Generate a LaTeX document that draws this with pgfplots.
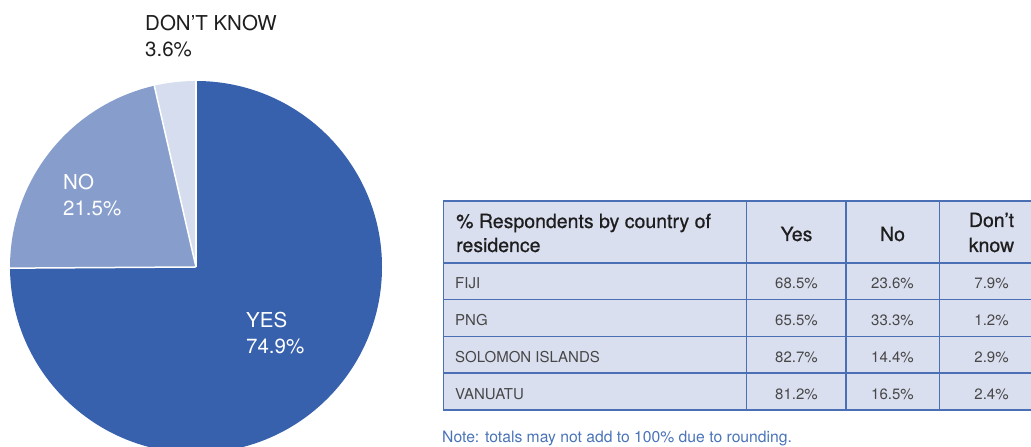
\documentclass[border=0pt]{standalone}
\usepackage{pgfplots}
\pgfplotsset{compat=1.18}
\usepackage{pgfplotstable}
\usepackage{fontspec}
\setmainfont{TeX Gyre Heros}
\newfontfamily\headfont[FakeBold=0.6]{TeX Gyre Heros}
\definecolor{cyes}{HTML}{3761AC}
\definecolor{cno}{HTML}{879ECC}
\definecolor{cdk}{HTML}{D6DDEF}
\definecolor{tfill}{HTML}{DADFF0}
\definecolor{tline}{HTML}{4A6FB5}
\definecolor{notec}{HTML}{4A74B8}
\definecolor{bodyc}{HTML}{474747}
\definecolor{headc}{HTML}{1E1E1E}

\pgfplotstableread{
label value
YES 74.9
NO 21.5
DK 3.6
}\piedata

\pgfplotstableread[col sep=comma]{
country,yes,no,dk
FIJI,68.5,23.6,7.9
PNG,65.5,33.3,1.2
SOLOMON ISLANDS,82.7,14.4,2.9
VANUATU,81.2,16.5,2.4
}\countrydata

\begin{document}
\begin{tikzpicture}[x=1bp,y=1bp]
\useasboundingbox (0,0) rectangle (1031,447);
\clip (0,0) rectangle (1031,447);
% pie values
\pgfplotstablegetelem{0}{value}\of\piedata \global\let\pA\pgfplotsretval
\pgfplotstablegetelem{1}{value}\of\piedata \global\let\pB\pgfplotsretval
\pgfplotstablegetelem{2}{value}\of\piedata \global\let\pC\pgfplotsretval
\pgfmathsetmacro{\aA}{90}
\pgfmathsetmacro{\aB}{90-3.6*\pA}
\pgfmathsetmacro{\aC}{\aB-3.6*\pB}
\pgfmathsetmacro{\aD}{\aC-3.6*\pC}
\begin{axis}[hide axis, x=1bp, y=1bp, xmin=-186, xmax=186, ymin=-186, ymax=186,
  at={(10,-6)}, anchor=south west, clip=false]
\fill[cyes] (axis cs:0,0) -- ++(\aA:186bp) arc[start angle=\aA, end angle=\aB, radius=186bp] -- cycle;
\fill[cno] (axis cs:0,0) -- ++(\aB:186bp) arc[start angle=\aB, end angle=\aC, radius=186bp] -- cycle;
\fill[cdk] (axis cs:0,0) -- ++(\aC:186bp) arc[start angle=\aC, end angle=\aD, radius=186bp] -- cycle;
\draw[white, line width=1.5bp] (axis cs:0,0) -- ++(\aA:187bp);
\draw[white, line width=1.5bp] (axis cs:0,0) -- ++(\aB:187bp);
\draw[white, line width=1.5bp] (axis cs:0,0) -- ++(\aC:187bp);
\end{axis}
% pie labels
\begin{scope}[every node/.style={anchor=base west, inner sep=0pt, font=\fontsize{20.5bp}{25bp}\selectfont}]
\node[text=headc] at (145,{447-31}) {DON’T KNOW};
\node[text=headc] at (145,{447-57}) {\pC\%};
\node[text=white] at (63,{447-190}) {NO};
\node[text=white] at (63,{447-216}) {\pB\%};
\node[text=white] at (246,{447-328}) {YES};
\node[text=white] at (246,{447-354}) {\pA\%};
\end{scope}
% table
\fill[tfill] (443.5,37) rectangle (1044,246);
\begin{scope}[tline, line width=1.5bp]
\draw (443.5,37) rectangle (1044,246);
\draw (443.5,184) -- (1044,184);
\draw (443.5,147.3) -- (1044,147.3);
\draw (443.5,110.7) -- (1044,110.7);
\draw (443.5,74) -- (1044,74);
\draw (746.5,37) -- (746.5,246);
\draw (846,37) -- (846,246);
\draw (939.5,37) -- (939.5,246);
\end{scope}
\begin{scope}[every node/.style={inner sep=0pt, text=headc, font=\headfont\fontsize{19.5bp}{23bp}\selectfont}]
\node[anchor=base west] at (456,219) {\% Respondents by country of};
\node[anchor=base west] at (456,195) {residence};
\node[anchor=base] at (796.5,206) {Yes};
\node[anchor=base] at (892.5,206) {No};
\node[anchor=base] at (991.5,220) {Don’t};
\node[anchor=base] at (991.5,195) {know};
\end{scope}
\foreach \r in {0,...,3}{
  \pgfmathsetmacro{\yb}{158-36.67*\r}
  \pgfplotstablegetelem{\r}{country}\of\countrydata \let\cn\pgfplotsretval
  \pgfplotstablegetelem{\r}{yes}\of\countrydata \let\cy\pgfplotsretval
  \pgfplotstablegetelem{\r}{no}\of\countrydata \let\cno\pgfplotsretval
  \pgfplotstablegetelem{\r}{dk}\of\countrydata \let\cd\pgfplotsretval
  \begin{scope}[every node/.style={inner sep=0pt, text=bodyc, font=\fontsize{15bp}{18bp}\selectfont}]
  \node[anchor=base west] at (455,\yb) {\cn};
  \node[anchor=base] at (796.5,\yb) {\cy\%};
  \node[anchor=base] at (892.5,\yb) {\cno\%};
  \node[anchor=base] at (991.5,\yb) {\cd\%};
  \end{scope}
}
\node[anchor=base west, inner sep=0pt, text=notec, font=\fontsize{15.7bp}{18bp}\selectfont] at (442,4) {Note: totals may not add to 100\% due to rounding.};
\end{tikzpicture}
\end{document}
